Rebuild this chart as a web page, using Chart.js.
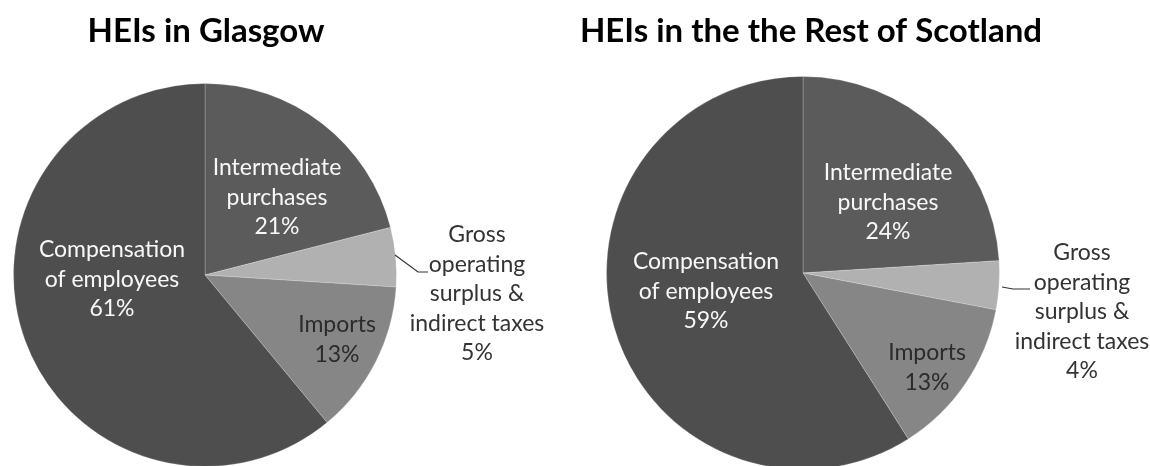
<!DOCTYPE html>
<html>
<head>
<meta charset="utf-8">
<script src="https://cdn.jsdelivr.net/npm/chart.js@4.4.0/dist/chart.umd.min.js"></script>
<style>
  body { margin: 0; background: #fff; width: 1150px; height: 466px; overflow: hidden; position: relative; }
  canvas { position: absolute; top: 0; }
</style>
</head>
<body>
<canvas id="glasgow" width="575" height="470" style="left:0"></canvas>
<canvas id="rest" width="575" height="472" style="left:575px"></canvas>
<script>
// slices run clockwise from 12 o'clock
var categories = ["Intermediate purchases", "Gross operating surplus & indirect taxes", "Imports", "Compensation of employees"];
var labelLines = [["Intermediate", "purchases"], ["Gross", "operating", "surplus &", "indirect taxes"], ["Imports"], ["Compensation", "of employees"]];
var glasgowShares = [21, 5, 13, 61];
var restShares = [24, 4, 13, 59];
var titles = ["HEIs in Glasgow", "HEIs in the the Rest of Scotland"];

var sliceColors = ["#5b5b5b", "#b1b1b1", "#868686", "#4e4e4e"];
var textColors = ["#f8f8f8", "#333333", "#2b2b2b", "#f8f8f8"];
var labelFont = "23px Lato";
var lineStep = 29.5;

// draws the title, the in-slice labels and the leader line for the small slice
var pieLabels = {
  id: "pieLabels",
  afterDatasetsDraw: function(chart) {
    var o = chart.options.plugins.pieLabels;
    var ctx = chart.ctx;
    var arc = chart.getDatasetMeta(0).data[0];
    var cx = arc.x, cy = arc.y;
    var values = chart.data.datasets[0].data;
    ctx.save();
    ctx.textAlign = "center";
    ctx.textBaseline = "middle";

    ctx.font = "bold 33px Lato";
    ctx.fillStyle = "#000";
    ctx.fillText(o.title, cx + o.titleDx, 31);

    ctx.font = labelFont;
    for (var i = 0; i < values.length; i++) {
      var lines = labelLines[i].concat([values[i] + "%"]);
      ctx.fillStyle = textColors[i];
      for (var j = 0; j < lines.length; j++) {
        ctx.fillText(lines[j], cx + o.offsets[i][0], cy + o.offsets[i][1] + j * lineStep);
      }
    }

    ctx.strokeStyle = "#333";
    ctx.lineWidth = 1.2;
    ctx.beginPath();
    o.leader.forEach(function(p, k) {
      if (k === 0) ctx.moveTo(cx + p[0], cy + p[1]);
      else ctx.lineTo(cx + p[0], cy + p[1]);
    });
    ctx.stroke();
    ctx.restore();
  }
};

function makePie(id, shares, title, padding, offsets, leader, titleDx) {
  return new Chart(document.getElementById(id), {
    type: "pie",
    data: {
      labels: categories,
      datasets: [{
        data: shares,
        backgroundColor: sliceColors,
        borderColor: "rgba(255,255,255,0.22)",
        borderWidth: 1
      }]
    },
    options: {
      responsive: false,
      animation: false,
      layout: { padding: padding },
      plugins: {
        legend: { display: false },
        tooltip: { enabled: false },
        pieLabels: { title: title, offsets: offsets, leader: leader, titleDx: titleDx }
      }
    },
    plugins: [pieLabels]
  });
}

makePie("glasgow", glasgowShares, titles[0],
  { top: 83, bottom: 3, left: 13, right: 178 },
  [[72, -107], [272, -40], [132, 50], [-93, -25]],
  [[190, -20], [213, -3], [223, -3]], 1);

makePie("rest", restShares, titles[1],
  { top: 76, bottom: 2, left: 31, right: 150 },
  [[85, -100], [279, -20], [124, 80], [-97, -11]],
  [[199, 14], [210, 16], [227, 16]], 8);
</script>
</body>
</html>
